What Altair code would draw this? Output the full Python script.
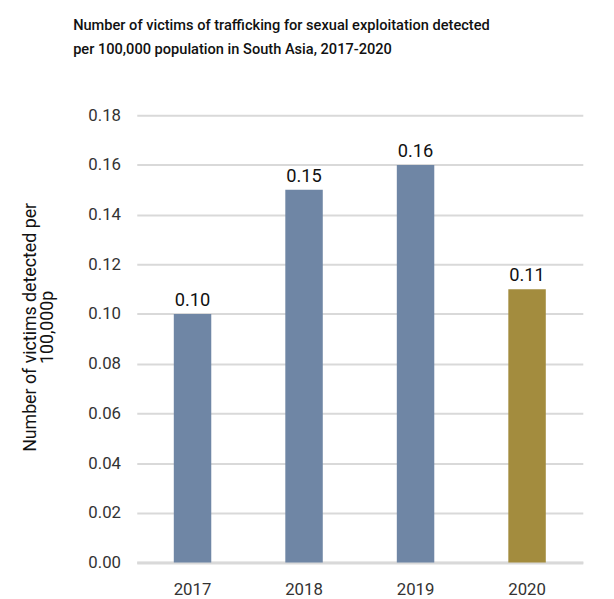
import altair as alt
import pandas as pd

years = ["2017", "2018", "2019", "2020"]
values = [0.10, 0.15, 0.16, 0.11]
labels = ["0.10", "0.15", "0.16", "0.11"]
highlight = ["no", "no", "no", "yes"]

df = pd.DataFrame({"year": years, "value": values, "label": labels, "hl": highlight})

x = alt.X("year:N", title=None, sort=years,
          scale=alt.Scale(paddingInner=0.664, paddingOuter=0.332, range=[7.5, 459.5]),
          axis=alt.Axis(labelAngle=0, labelFont="Roboto", labelFontSize=17, labelColor="#333333",
                        labelPadding=19, ticks=False, domainColor="#d9d9d9", domainWidth=3,
                        grid=False))
y = alt.Y("value:Q",
          scale=alt.Scale(domain=[0, 0.18], nice=False),
          axis=alt.Axis(values=[0, 0.02, 0.04, 0.06, 0.08, 0.10, 0.12, 0.14, 0.16, 0.18],
                        format=".2f", labelFont="Roboto", labelFontSize=17, labelColor="#333333",
                        labelPadding=9, ticks=False, domain=False, gridColor="#d9d9d9", gridWidth=2,
                        title=["Number of victims detected per", "100,000p"],
                        titleFont="Roboto", titleFontSize=18, titleFontWeight="normal",
                        titleColor="#111111", titleAngle=-90, titleAlign="center",
                        titleBaseline="alphabetic", titleX=-95, titleY=214.5, titleLineHeight=17))

base = alt.Chart(df)
bars = base.mark_bar().encode(
    x=x, y=y,
    color=alt.Color("hl:N", scale=alt.Scale(domain=["no", "yes"], range=["#6f86a5", "#a38c3e"]), legend=None),
)
text = base.mark_text(baseline="alphabetic", dy=-8, font="Roboto", fontSize=18.5, color="#111111").encode(
    x=alt.X("year:N", sort=years), y="value:Q", text="label:N")

chart = alt.layer(bars, text).properties(
    width=481, height=453.3,
    autosize=alt.AutoSizeParams(type="none"),
    padding={"left": 123, "top": 104.7, "right": 2, "bottom": 35},
    title=alt.TitleParams(
        text=["Number of victims of trafficking for sexual exploitation detected",
              "per 100,000 population in South Asia, 2017-2020"],
        anchor="start", frame="group", dx=-57, offset=38, font="Roboto", fontSize=14.8,
        fontWeight=500, color="#111111", lineHeight=24.5, baseline="alphabetic"),
).configure_view(stroke=None)

chart.save("out.html", embed_options={"renderer": "svg", "actions": False})
